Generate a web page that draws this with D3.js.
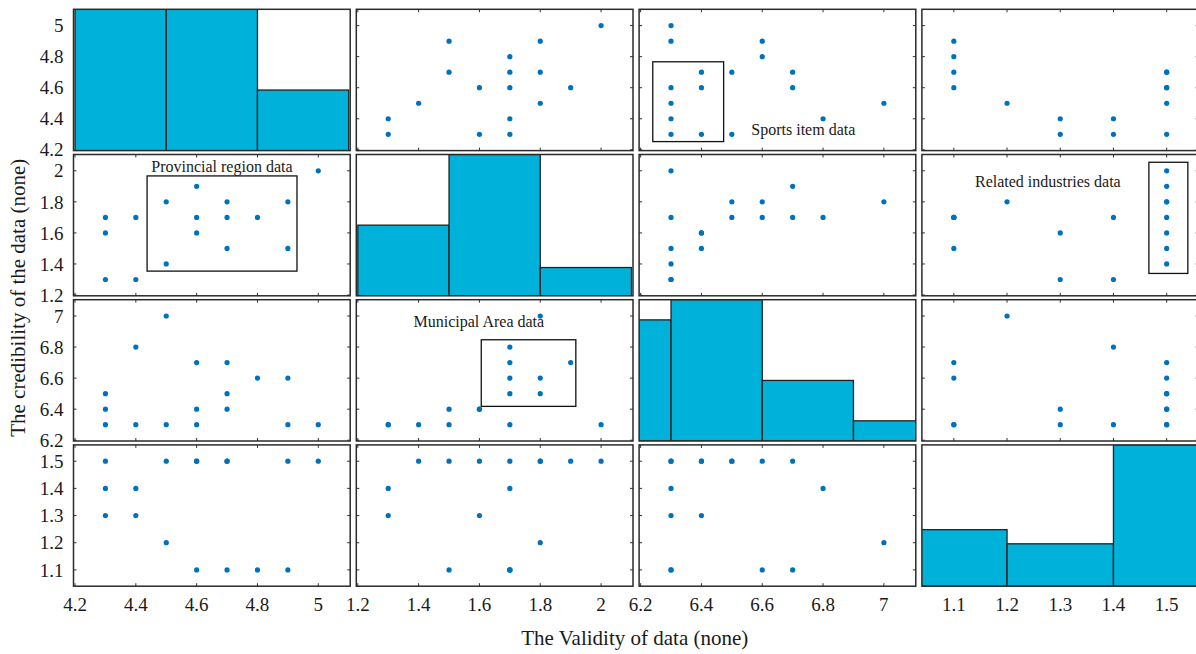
<!DOCTYPE html>
<html>
<head>
<meta charset="utf-8">
<script src="https://cdn.jsdelivr.net/npm/d3@7"></script>
<style>
  body { margin: 0; background: #fff; }
  text { font-family: "Liberation Serif", "DejaVu Serif", serif; fill: #1a1a1a; }
</style>
</head>
<body>
<div id="chart"></div>
<script>
const colA = [4.3, 4.3, 4.3, 4.4, 4.4, 4.5, 4.5, 4.6, 4.6, 4.6, 4.7, 4.7, 4.7, 4.8, 4.9, 4.9, 5.0];
const colB = [1.7, 1.6, 1.3, 1.7, 1.3, 1.8, 1.4, 1.9, 1.7, 1.6, 1.8, 1.7, 1.5, 1.7, 1.8, 1.5, 2.0];
const colC = [6.5, 6.4, 6.3, 6.8, 6.3, 7.0, 6.3, 6.7, 6.3, 6.4, 6.5, 6.7, 6.4, 6.6, 6.6, 6.3, 6.3];
const colD = [1.5, 1.3, 1.4, 1.4, 1.3, 1.2, 1.5, 1.5, 1.1, 1.5, 1.5, 1.1, 1.5, 1.1, 1.5, 1.1, 1.5];

// diagonal histograms
const histEdges = [[4.2, 4.5, 4.8, 5.1], [1.2, 1.5, 1.8, 2.1], [6.0, 6.3, 6.6, 6.9, 7.2], [1.0, 1.2, 1.4, 1.6]];
const histCounts = [[7, 7, 3], [5, 10, 2], [6, 7, 3, 1], [4, 3, 10]];

const tickVals = [[4.2, 4.4, 4.6, 4.8, 5], [1.2, 1.4, 1.6, 1.8, 2], [6.2, 6.4, 6.6, 6.8, 7], [1.1, 1.2, 1.3, 1.4, 1.5]];

// two observations that the figure does not show in the top-right panel
const hiddenTopRight = [14, 16];

const xTitle = "The Validity of data (none)";
const yTitle = "The credibility of the data (none)";

// boxed groups with their labels (data units of the panel)
const notes = [
  { row: 0, col: 2, x: [6.24, 6.473], y: [4.253, 4.767], label: "Sports item data", lx: 6.735, ly: 4.33 },
  { row: 1, col: 0, x: [4.437, 4.93], y: [1.354, 1.967], label: "Provincial region data", lx: 4.683, ly: 2.027 },
  { row: 2, col: 1, x: [1.606, 1.917], y: [6.418, 6.847], label: "Municipal Area data", lx: 1.598, ly: 6.967 },
  { row: 1, col: 3, x: [1.4666, 1.5398], y: [1.339, 2.055], label: "Related industries data", lx: 1.2767, ly: 1.931 }
];

const cols = [colA, colB, colC, colD];
const width = 1196, height = 654;
const padLeft = 73.5, padTop = 9.3;
const pw = 276.7, ph = 141.3;
const stepX = 282.8, stepY = 145.2;

const svg = d3.select('#chart').append('svg')
  .attr('width', width)
  .attr('height', height);

// limits padded by 15% of the range, like the original
const domains = cols.map(c => {
  const [lo, hi] = d3.extent(c);
  const pad = (hi - lo) * 0.15;
  return [lo - pad, hi + pad];
});
const xs = domains.map((d, i) => d3.scaleLinear().domain(d).range([padLeft + i * stepX, padLeft + i * stepX + pw]));
const ys = domains.map((d, i) => d3.scaleLinear().domain(d).range([padTop + i * stepY + ph, padTop + i * stepY]));

const fmt = v => String(+v.toFixed(1));
const tickLen = 3;

for (let r = 0; r < 4; r++) {
  for (let c = 0; c < 4; c++) {
    const x = xs[c], y = ys[r];
    const x0 = x.range()[0], x1 = x.range()[1];
    const y0 = y.range()[1], y1 = y.range()[0];
    const g = svg.append('g');
    const clipId = `clip-${r}-${c}`;
    g.append('clipPath').attr('id', clipId)
      .append('rect').attr('x', x0).attr('y', y0).attr('width', x1 - x0).attr('height', y1 - y0);

    if (r === c) {
      const counts = histCounts[r], edges = histEdges[r];
      const hy = d3.scaleLinear().domain([0, d3.max(counts)]).range([y1, y0]);
      g.append('g').attr('clip-path', `url(#${clipId})`)
        .selectAll('rect')
        .data(counts)
        .enter().append('rect')
          .attr('x', (d, i) => x(edges[i]))
          .attr('y', d => hy(d))
          .attr('width', (d, i) => x(edges[i + 1]) - x(edges[i]))
          .attr('height', d => y1 - hy(d))
          .attr('fill', '#00b2da')
          .attr('stroke', '#222')
          .attr('stroke-width', 1.3);
    } else {
      // inward ticks on all four sides
      const tk = g.append('g').attr('stroke', '#333').attr('stroke-width', 1);
      tickVals[c].filter(v => v >= x.domain()[0] && v <= x.domain()[1]).forEach(v => {
        tk.append('line').attr('x1', x(v)).attr('x2', x(v)).attr('y1', y1).attr('y2', y1 - tickLen);
        tk.append('line').attr('x1', x(v)).attr('x2', x(v)).attr('y1', y0).attr('y2', y0 + tickLen);
      });
      tickVals[r].filter(v => v >= y.domain()[0] && v <= y.domain()[1]).forEach(v => {
        tk.append('line').attr('x1', x0).attr('x2', x0 + tickLen).attr('y1', y(v)).attr('y2', y(v));
        tk.append('line').attr('x1', x1).attr('x2', x1 - tickLen).attr('y1', y(v)).attr('y2', y(v));
      });

      notes.filter(n => n.row === r && n.col === c).forEach(n => {
        g.append('rect')
          .attr('x', x(n.x[0])).attr('y', y(n.y[1]))
          .attr('width', x(n.x[1]) - x(n.x[0]))
          .attr('height', y(n.y[0]) - y(n.y[1]))
          .attr('fill', 'none').attr('stroke', '#111').attr('stroke-width', 1.3);
        g.append('text')
          .attr('x', x(n.lx)).attr('y', y(n.ly))
          .attr('dy', '0.35em')
          .attr('text-anchor', 'middle')
          .attr('font-size', 16)
          .text(n.label);
      });

      const idx = d3.range(cols[0].length)
        .filter(i => !(r === 0 && c === 3 && hiddenTopRight.includes(i)));
      g.append('g')
        .selectAll('circle')
        .data(idx)
        .enter().append('circle')
          .attr('cx', i => x(cols[c][i]))
          .attr('cy', i => y(cols[r][i]))
          .attr('r', 2.6)
          .attr('fill', '#0072bd');
    }

    g.append('rect')
      .attr('x', x0).attr('y', y0).attr('width', x1 - x0).attr('height', y1 - y0)
      .attr('fill', 'none').attr('stroke', '#2b2b2b').attr('stroke-width', 1.5);
  }
}

// tick labels: left column and bottom row
ys.forEach((y, r) => {
  svg.append('g').selectAll('text')
    .data(tickVals[r])
    .enter().append('text')
      .attr('x', padLeft - 10)
      .attr('y', d => y(d))
      .attr('dy', '0.35em')
      .attr('text-anchor', 'end')
      .attr('font-size', 19)
      .text(fmt);
});
xs.forEach((x, c) => {
  svg.append('g').selectAll('text')
    .data(tickVals[c])
    .enter().append('text')
      .attr('x', d => x(d))
      .attr('y', padTop + 3 * stepY + ph + 25)
      .attr('text-anchor', 'middle')
      .attr('font-size', 19)
      .text(fmt);
});

svg.append('text')
  .attr('x', (padLeft + width) / 2)
  .attr('y', 645)
  .attr('text-anchor', 'middle')
  .attr('font-size', 21)
  .text(xTitle);

svg.append('text')
  .attr('transform', `translate(25,${padTop + (3 * stepY + ph) / 2}) rotate(-90)`)
  .attr('text-anchor', 'middle')
  .attr('font-size', 21)
  .text(yTitle);
</script>
</body>
</html>
